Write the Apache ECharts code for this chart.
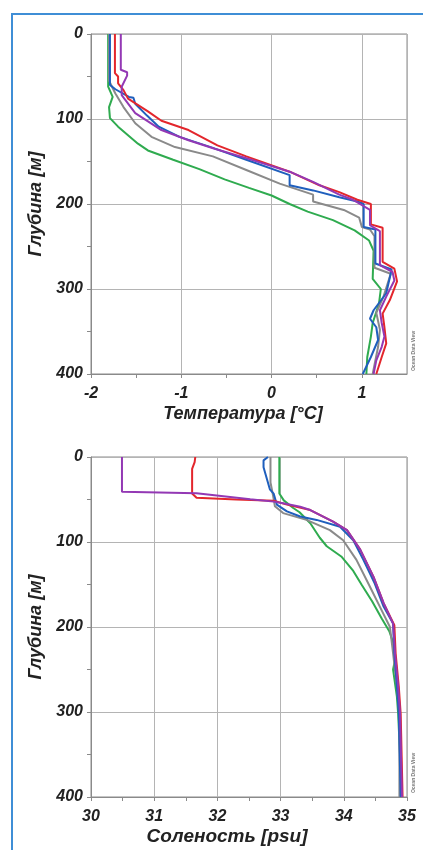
<!DOCTYPE html>
<html>
<head>
<meta charset="utf-8">
<script src="https://cdn.jsdelivr.net/npm/echarts@6/dist/echarts.min.js"></script>
<style>
html,body{margin:0;padding:0;background:#fff;}
#chart{width:423px;height:850px;}
</style>
</head>
<body>
<div id="chart"></div>
<script>
// ---- Temperature profiles: [temperature °C, depth m]
const tempGreen = [[-1.81,0],[-1.81,62],[-1.76,74],[-1.80,86],[-1.79,99],[-1.70,109],[-1.59,119],[-1.48,129],[-1.37,137],[-1.09,148],[-0.80,159],[-0.52,171],[-0.25,181],[0.0,190],[0.2,200],[0.40,209],[0.68,219],[0.92,231],[1.08,243],[1.13,255],[1.12,288],[1.21,300],[1.19,317],[1.12,340],[1.10,356],[1.06,380],[1.05,400]];
const tempGrey = [[-1.80,0],[-1.80,55],[-1.73,70],[-1.64,86],[-1.51,105],[-1.33,121],[-1.07,133],[-0.65,144],[-0.28,160],[0.09,176],[0.46,189],[0.46,197],[0.80,207],[0.97,216],[1.00,227],[1.09,230],[1.14,238],[1.14,275],[1.32,282],[1.24,309],[1.16,328],[1.20,348],[1.18,368],[1.12,400]];
const tempBlue = [[-1.79,0],[-1.79,60],[-1.73,65],[-1.58,74],[-1.53,75],[-1.51,82],[-1.38,96],[-1.25,109],[-1.02,121],[-0.65,134],[-0.28,148],[0.20,166],[0.20,178],[0.46,184],[0.75,192],[0.95,197],[1.02,200],[1.02,227],[1.15,230],[1.15,270],[1.33,277],[1.27,305],[1.13,325],[1.09,335],[1.16,345],[1.18,360],[1.10,380],[1.01,400]];
const tempRed = [[-1.735,0],[-1.735,46],[-1.70,50],[-1.70,58],[-1.64,66],[-1.59,76],[-1.37,91],[-1.22,102],[-0.92,113],[-0.60,131],[-0.28,144],[0.20,162],[0.53,178],[0.75,186],[0.95,195],[1.10,200],[1.10,224],[1.23,228],[1.23,268],[1.36,276],[1.39,291],[1.31,313],[1.23,329],[1.25,345],[1.27,364],[1.22,380],[1.16,400]];
const tempPurple = [[-1.67,0],[-1.67,42],[-1.60,45],[-1.60,49],[-1.66,62],[-1.66,72],[-1.51,93],[-1.22,113],[-0.92,125],[-0.63,135],[-0.28,146],[0.20,162],[0.46,174],[0.75,189],[0.90,195],[1.09,207],[1.09,225],[1.20,232],[1.20,272],[1.34,280],[1.36,290],[1.27,309],[1.20,325],[1.22,340],[1.25,356],[1.22,368],[1.16,384],[1.13,400]];

// ---- Salinity profiles: [salinity psu, depth m]
const salGreen = [[32.98,0],[32.98,43],[33.05,51],[33.20,60],[33.30,65],[33.47,78],[33.62,95],[33.73,105],[33.96,117],[34.15,134],[34.28,150],[34.45,170],[34.60,190],[34.72,205],[34.78,218],[34.81,239],[34.78,250],[34.84,282],[34.86,302],[34.92,400]];
const salGrey = [[32.84,0],[32.84,30],[32.88,45],[32.91,58],[33.04,66],[33.41,74],[33.78,86],[33.99,98],[34.20,121],[34.41,152],[34.57,176],[34.73,200],[34.78,231],[34.84,270],[34.88,302],[34.88,400]];
const salBlue = [[32.80,0],[32.73,4],[32.73,12],[32.78,25],[32.83,38],[32.89,43],[32.94,56],[33.10,64],[33.31,70],[33.57,74],[33.94,82],[34.15,98],[34.31,121],[34.49,149],[34.63,176],[34.78,196],[34.80,231],[34.84,270],[34.87,302],[34.90,400]];
const salRed = [[31.65,0],[31.64,6],[31.60,14],[31.60,43],[31.67,48],[32.30,50],[32.89,51.5],[33.10,56],[33.47,62.4],[33.83,76],[34.05,86],[34.26,109],[34.47,141],[34.63,172],[34.80,198],[34.82,231],[34.87,270],[34.90,302],[34.93,400]];
const salPurple = [[30.49,0],[30.49,40.8],[31.67,42.7],[32.52,49.8],[32.89,52.5],[33.04,54.5],[33.31,58.5],[33.47,62.4],[33.83,76],[34.05,86],[34.26,109],[34.47,141],[34.63,172],[34.78,196],[34.81,231],[34.86,270],[34.89,302],[34.92,400]];

// ---- Axis settings / labels
const depthTicks = [0, 100, 200, 300, 400];
const tempRange = [-2, 1.5];
const salRange = [30, 35];
const depthName = 'Глубина [м]';
const tempName = 'Температура [°C]';
const salName = 'Соленость [psu]';
const odvText = 'Ocean Data View';

const C = {green:'#2fab4f', grey:'#8a8a8a', blue:'#1f5fbd', red:'#e3262c', purple:'#9338b4'};
const FONT = 'Liberation Sans';
const lbl = {fontFamily: FONT, fontWeight: 'bold', fontStyle: 'italic', fontSize: 16, color: '#222'};
const nameSt = {fontFamily: FONT, fontWeight: 'bold', fontStyle: 'italic', fontSize: 18, color: '#222'};
const axisLineSt = {show: true, onZero: false, lineStyle: {color: '#8a8a8a', width: 1}};
const gridLineSt = {show: true, lineStyle: {color: '#b4b4b4', width: 1}};

function yAx(gridIndex) {
  return {
    type: 'value', gridIndex: gridIndex, inverse: true, position: 'left',
    min: depthTicks[0], max: depthTicks[depthTicks.length - 1], interval: 100,
    name: depthName, nameLocation: 'middle', nameGap: 45, nameTextStyle: nameSt,
    axisLine: axisLineSt,
    axisTick: {show: true, length: 4, lineStyle: {color: '#8a8a8a'}},
    minorTick: {show: true, splitNumber: 2, length: 4, lineStyle: {color: '#8a8a8a'}},
    axisLabel: Object.assign({margin: 8}, lbl),
    splitLine: gridLineSt
  };
}
function ser(name, data, color, xi, yi) {
  return {type: 'line', name: name, data: data, xAxisIndex: xi, yAxisIndex: yi,
    showSymbol: false, symbol: 'none', animation: false,
    lineStyle: {color: color, width: 2}, itemStyle: {color: color}};
}

const chart = echarts.init(document.getElementById('chart'), null, {renderer: 'canvas'});
chart.setOption({
  backgroundColor: '#fff',
  animation: false,
  grid: [
    {left: 91, top: 34, width: 316, height: 340, show: true, borderColor: '#8a8a8a', borderWidth: 1, backgroundColor: 'transparent'},
    {left: 91, top: 457, width: 316, height: 340, show: true, borderColor: '#8a8a8a', borderWidth: 1, backgroundColor: 'transparent'}
  ],
  xAxis: [
    {type: 'value', gridIndex: 0, position: 'bottom', min: tempRange[0], max: tempRange[1], interval: 0.5,
     name: tempName, nameLocation: 'middle', nameGap: 31, nameTextStyle: Object.assign({padding: [0, 12, 0, 0]}, nameSt),
     axisLine: axisLineSt,
     axisTick: {show: true, length: 4, lineStyle: {color: '#8a8a8a'}},
     axisLabel: Object.assign({margin: 12, showMaxLabel: false,
       formatter: function (v) { return Number.isInteger(v) ? String(v) : ''; }}, lbl),
     splitLine: {show: false}},
    {type: 'value', gridIndex: 0, position: 'top', min: tempRange[0], max: tempRange[1], interval: 1,
     axisLine: {show: false, onZero: false}, axisTick: {show: false}, axisLabel: {show: false},
     splitLine: gridLineSt},
    {type: 'value', gridIndex: 1, position: 'bottom', min: salRange[0], max: salRange[1], interval: 1,
     name: salName, nameLocation: 'middle', nameGap: 30, nameTextStyle: Object.assign({padding: [0, 44, 0, 0]}, nameSt, {fontSize: 19}),
     axisLine: axisLineSt,
     axisTick: {show: true, length: 4, lineStyle: {color: '#8a8a8a'}},
     minorTick: {show: true, splitNumber: 2, length: 4, lineStyle: {color: '#8a8a8a'}},
     axisLabel: Object.assign({margin: 12}, lbl),
     splitLine: gridLineSt}
  ],
  yAxis: [yAx(0), yAx(1)],
  series: [
    ser('green', tempGreen, C.green, 0, 0),
    ser('grey', tempGrey, C.grey, 0, 0),
    ser('blue', tempBlue, C.blue, 0, 0),
    ser('red', tempRed, C.red, 0, 0),
    ser('purple', tempPurple, C.purple, 0, 0),
    ser('green', salGreen, C.green, 2, 1),
    ser('grey', salGrey, C.grey, 2, 1),
    ser('blue', salBlue, C.blue, 2, 1),
    ser('red', salRed, C.red, 2, 1),
    ser('purple', salPurple, C.purple, 2, 1)
  ],
  graphic: [
    {type: 'rect', left: 11, top: 13, shape: {width: 412, height: 850}, silent: true, z: 100,
     style: {fill: 'transparent', stroke: '#3f8ed6', lineWidth: 2}},
    {type: 'text', x: 414, y: 351, rotation: Math.PI / 2, silent: true,
     style: {text: odvText, font: 'bold 5px "Liberation Sans"', fill: '#777', align: 'center', verticalAlign: 'middle'}},
    {type: 'text', x: 414, y: 773, rotation: Math.PI / 2, silent: true,
     style: {text: odvText, font: 'bold 5px "Liberation Sans"', fill: '#777', align: 'center', verticalAlign: 'middle'}}
  ]
});
</script>
</body>
</html>
